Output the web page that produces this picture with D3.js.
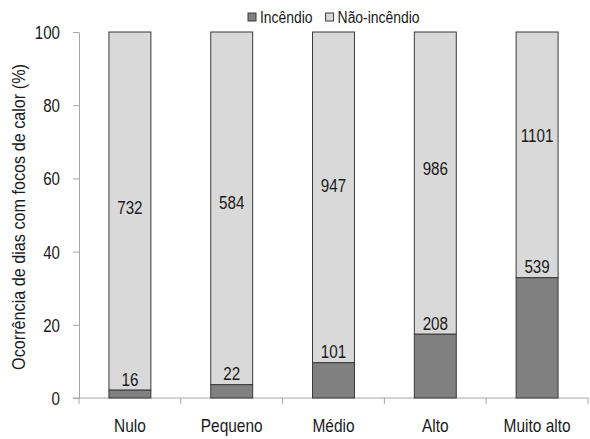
<!DOCTYPE html>
<html>
<head>
<meta charset="utf-8">
<script src="https://cdn.jsdelivr.net/npm/d3@7"></script>
<style>
  html, body { margin: 0; padding: 0; background: #fff; }
  svg { display: block; }
  text { font-family: "Liberation Sans", Arial, sans-serif; fill: #1a1a1a; }
</style>
</head>
<body>
<svg id="chart" width="590" height="439"></svg>
<script>
// Fire-risk classes and day counts with hot spots
const categories = ["Nulo", "Pequeno", "Médio", "Alto", "Muito alto"];
const incendio = [16, 22, 101, 208, 539];
const naoIncendio = [732, 584, 947, 986, 1101];
const seriesNames = ["Incêndio", "Não-incêndio"];
const yTicks = [0, 20, 40, 60, 80, 100];

// Height (in %) at which each "Não-incêndio" count is written
const upperLabelLevel = [52.2, 53.6, 58.2, 62.8, 71.9];

const colors = { fire: "#808080", noFire: "#d9d9d9", edge: "#3a3a3a", axis: "#a6a6a6" };

const svg = d3.select("#chart");
const plotLeft = 79, plotRight = 588, plotTop = 32, plotBottom = 398;

const x = d3.scaleBand().domain(categories).range([plotLeft, plotRight])
  .paddingInner(0.588).paddingOuter(0.294);
const y = d3.scaleLinear().domain([0, 100]).range([plotBottom, plotTop]);

const rows = categories.map((c, i) => {
  const total = incendio[i] + naoIncendio[i];
  return { cat: c, fire: incendio[i], noFire: naoIncendio[i],
           firePct: incendio[i] / total * 100, i };
});

// narrow lettering: text is squeezed horizontally around its anchor
function condensedText(sel, px, py, sx) {
  return sel.attr("transform", `translate(${px},${py}) scale(${sx},1)`);
}

// y axis
const tickSX = 0.84;
const gy = svg.append("g").attr("transform", `translate(${plotLeft},0)`)
  .call(d3.axisLeft(y).tickValues(yTicks).tickSize(6).tickSizeOuter(0).tickPadding(0));
gy.select(".domain").attr("stroke", colors.axis);
gy.selectAll(".tick line").attr("stroke", colors.axis);
gy.selectAll(".tick text")
  .attr("x", -19 / tickSX).attr("dy", "0.36em")
  .attr("transform", `scale(${tickSX},1)`)
  .style("font-size", "18px").style("fill", "#1a1a1a")
  .style("font-family", "'Liberation Sans', Arial, sans-serif");

// x axis line and boundary ticks
const step = x.step();
svg.append("line").attr("x1", plotLeft - 6).attr("x2", plotRight).attr("y1", plotBottom).attr("y2", plotBottom)
  .attr("stroke", colors.axis);
svg.selectAll(".xtick").data(d3.range(categories.length + 1)).join("line")
  .attr("class", "xtick")
  .attr("x1", i => plotLeft + i * step).attr("x2", i => plotLeft + i * step)
  .attr("y1", plotBottom).attr("y2", plotBottom + 6).attr("stroke", colors.axis);

// category labels
svg.selectAll(".xlab").data(categories).join("text")
  .attr("class", "xlab").attr("text-anchor", "middle")
  .style("font-size", "18px")
  .each(function (d) { condensedText(d3.select(this), x(d) + x.bandwidth() / 2, 432, 0.86); })
  .text(d => d);

// stacked bars
const bars = svg.append("g");
bars.selectAll(".upper").data(rows).join("rect")
  .attr("class", "upper")
  .attr("x", d => x(d.cat)).attr("width", x.bandwidth())
  .attr("y", y(100)).attr("height", d => y(d.firePct) - y(100))
  .attr("fill", colors.noFire).attr("stroke", colors.edge).attr("stroke-width", 1);
bars.selectAll(".lower").data(rows).join("rect")
  .attr("class", "lower")
  .attr("x", d => x(d.cat)).attr("width", x.bandwidth())
  .attr("y", d => y(d.firePct)).attr("height", d => y(0) - y(d.firePct))
  .attr("fill", colors.fire).attr("stroke", colors.edge).attr("stroke-width", 1);

// value labels
const valSX = 0.8;
svg.selectAll(".vfire").data(rows).join("text")
  .attr("class", "vfire")
  .attr("text-anchor", "middle").style("font-size", "19px")
  .each(function (d) { condensedText(d3.select(this), x(d.cat) + x.bandwidth() / 2, y(d.firePct) - 4.5, valSX); })
  .text(d => d.fire);
svg.selectAll(".vnofire").data(rows).join("text")
  .attr("class", "vnofire")
  .attr("text-anchor", "middle").style("font-size", "19px")
  .each(function (d) { condensedText(d3.select(this), x(d.cat) + x.bandwidth() / 2, y(upperLabelLevel[d.i]) + 7, valSX); })
  .text(d => d.noFire);

// y-axis title
svg.append("text")
  .attr("text-anchor", "middle")
  .style("font-size", "18px")
  .attr("transform", `translate(25,${(plotTop + plotBottom) / 2 + 2}) rotate(-90) scale(0.9,1)`)
  .text("Ocorrência de dias com focos de calor (%)");

// legend
const legend = svg.append("g");
const legendItems = [{ name: seriesNames[0], fill: colors.fire }, { name: seriesNames[1], fill: colors.noFire }];
const legSX = 0.87;
let lx = 248;
legendItems.forEach((it) => {
  legend.append("rect").attr("x", lx).attr("y", 13).attr("width", 8).attr("height", 8)
    .attr("fill", it.fill).attr("stroke", colors.edge);
  const t = legend.append("text").style("font-size", "16px")
    .attr("transform", `translate(${lx + 12},23) scale(${legSX},1)`).text(it.name);
  lx += 12 + t.node().getComputedTextLength() * legSX + 13;
});
</script>
</body>
</html>
